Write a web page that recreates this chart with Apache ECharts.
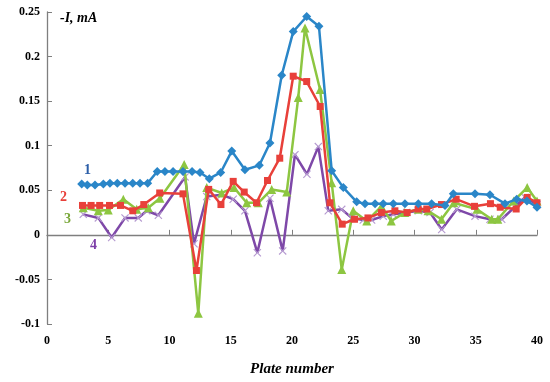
<!DOCTYPE html>
<html>
<head>
<meta charset="utf-8">
<script src="https://cdn.jsdelivr.net/npm/echarts@6/dist/echarts.min.js"></script>
<style>html,body{margin:0;padding:0;background:#fff}#c{width:550px;height:382px}</style>
</head>
<body>
<div id="c"></div>
<script>
// Series 1 (blue diamonds)
var s1x = [2.83,3.29,3.92,4.6,5.14,5.74,6.37,7.0,7.59,8.22,9.0,9.63,10.29,11.1,11.84,12.49,13.25,14.18,15.08,16.16,17.33,18.2,19.16,20.1,21.2,22.2,23.24,24.19,25.28,25.96,26.78,27.45,28.27,29.22,30.31,31.4,32.49,33.17,34.94,36.16,37.39,38.34,39.18,40.0];
var s1y = [0.057,0.056,0.056,0.057,0.058,0.058,0.058,0.058,0.058,0.058,0.071,0.071,0.071,0.071,0.071,0.070,0.063,0.070,0.094,0.073,0.078,0.103,0.179,0.228,0.245,0.234,0.072,0.053,0.037,0.035,0.035,0.035,0.035,0.035,0.035,0.035,0.033,0.046,0.046,0.045,0.035,0.040,0.038,0.031];
// Series 2 (red squares)
var s2x = [2.9,3.6,4.3,5.1,6.0,7.0,7.9,9.2,11.1,12.2,13.2,14.2,15.2,16.1,17.1,18.0,19.0,20.1,21.2,22.3,23.1,24.1,25.1,26.2,27.3,28.4,29.4,30.3,31.0,32.2,33.4,34.9,36.2,37.0,38.3,39.2,40.0];
var s2y = [0.033,0.033,0.033,0.033,0.033,0.027,0.034,0.047,0.046,-0.040,0.051,0.034,0.060,0.048,0.036,0.061,0.086,0.178,0.172,0.144,0.036,0.012,0.0175,0.019,0.025,0.027,0.025,0.029,0.029,0.034,0.040,0.032,0.035,0.031,0.029,0.042,0.036];
// Series 3 (green triangles)
var s3x = [2.96,4.19,5.0,6.23,7.32,8.27,9.22,11.2,12.35,13.04,14.26,15.27,16.3,17.25,18.34,19.57,20.51,21.06,22.29,23.24,24.06,25.0,26.1,27.3,28.1,29.2,30.3,31.1,32.2,33.2,35.1,36.3,36.8,38.1,39.2,40.0];
var s3y = [0.0305,0.027,0.028,0.040,0.0286,0.0305,0.041,0.079,-0.088,0.053,0.047,0.053,0.036,0.036,0.051,0.048,0.154,0.232,0.163,0.0585,-0.039,0.027,0.0155,0.032,0.0155,0.025,0.0286,0.027,0.0175,0.036,0.0286,0.0175,0.0175,0.038,0.053,0.038];
// Series 4 (purple crosses)
var s4x = [2.96,4.19,5.28,6.37,7.45,8.14,9.09,11.27,12.0,13.04,14.26,15.2,16.16,17.17,18.2,19.24,20.24,21.22,22.15,22.96,24.06,24.87,25.82,26.5,27.45,28.27,29.36,30.31,31.27,32.22,33.45,34.94,36.16,37.12,39.02,40.0];
var s4y = [0.023,0.019,-0.003,0.019,0.019,0.027,0.022,0.065,-0.010,0.043,0.045,0.040,0.027,-0.020,0.041,-0.018,0.090,0.068,0.099,0.027,0.0286,0.019,0.0167,0.0167,0.021,0.023,0.025,0.027,0.025,0.006,0.0286,0.021,0.0175,0.0175,0.042,0.034];

var xTicks = [0,5,10,15,20,25,30,35,40];
var yTickLabels = ['-0.1','-0.05','0','0.05','0.1','0.15','0.2','0.25'];

function pairs(xs, ys){ return xs.map(function(x,i){return [x, ys[i]];}); }

var serif = '"Liberation Serif","Times New Roman",serif';
var crossPath = 'path://M0,1L1,0L5,4L9,0L10,1L6,5L10,9L9,10L5,6L1,10L0,9L4,5Z';

var chart = echarts.init(document.getElementById('c'), null, {renderer:'canvas'});
chart.setOption({
  animation:false,
  backgroundColor:'#fff',
  grid:{left:47, right:13, top:12, bottom:57},
  xAxis:{
    type:'value', min:0, max:40, interval:5,
    axisLine:{lineStyle:{color:'#7f7f7f', width:1.3}},
    axisTick:{inside:true, length:5, lineStyle:{color:'#7f7f7f'}},
    splitLine:{show:false},
    axisLabel:{color:'#000', fontFamily:serif, fontWeight:'bold', fontSize:12, margin:11,
      formatter:function(v){ return xTicks.indexOf(v)>=0 ? String(v) : ''; }},
    name:'Plate number', nameLocation:'middle', nameGap:38,
    nameTextStyle:{color:'#000', fontFamily:serif, fontWeight:'bold', fontStyle:'italic', fontSize:15}
  },
  yAxis:{
    type:'value', min:-0.1, max:0.25, interval:0.05,
    axisLine:{show:true, lineStyle:{color:'#7f7f7f', width:1.3}},
    axisTick:{show:true, inside:true, length:5, lineStyle:{color:'#7f7f7f'}},
    splitLine:{show:false},
    axisLabel:{color:'#000', fontFamily:serif, fontWeight:'bold', fontSize:12, margin:7,
      formatter:function(v){ var s=String(parseFloat(v.toFixed(2))); return yTickLabels.indexOf(s)>=0?s:''; }}
  },
  graphic:[
    {type:'text', left:60, top:11, style:{text:'-I, mA', font:'italic bold 14px '+serif, fill:'#000'}},
    {type:'text', left:84, top:163, style:{text:'1', font:'bold 14px '+serif, fill:'#2b5ea8'}},
    {type:'text', left:60, top:190, style:{text:'2', font:'bold 14px '+serif, fill:'#e8403a'}},
    {type:'text', left:64, top:212, style:{text:'3', font:'bold 14px '+serif, fill:'#7aa83a'}},
    {type:'text', left:90, top:238, style:{text:'4', font:'bold 14px '+serif, fill:'#7d3fa8'}}
  ],
  series:[
    {type:'line', data:pairs(s4x,s4y), symbol:crossPath, symbolSize:8,
      lineStyle:{color:'#7e48a8', width:2.5}, itemStyle:{color:'#b59ad0'}, z:2},
    {type:'line', data:pairs(s3x,s3y), symbol:'triangle', symbolSize:9,
      lineStyle:{color:'#8dc641', width:2.5}, itemStyle:{color:'#8dc641'}, z:3},
    {type:'line', data:pairs(s2x,s2y), symbol:'rect', symbolSize:7,
      lineStyle:{color:'#e8403a', width:2.5}, itemStyle:{color:'#e8403a'}, z:4},
    {type:'line', data:pairs(s1x,s1y), symbol:'diamond', symbolSize:9,
      lineStyle:{color:'#2a86c8', width:2.5}, itemStyle:{color:'#2a86c8'}, z:5}
  ]
});
</script>
</body>
</html>
